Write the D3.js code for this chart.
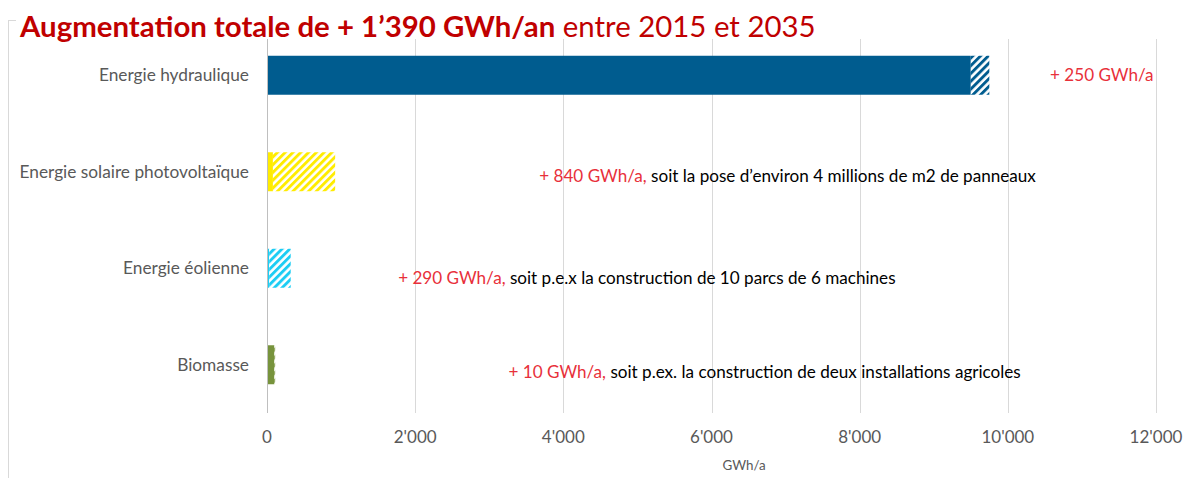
<!DOCTYPE html>
<html>
<head>
<meta charset="utf-8">
<script src="https://cdn.jsdelivr.net/npm/d3@7"></script>
<style>
  body { margin: 0; background: #fff; }
  text { font-family: Lato, "Open Sans", sans-serif; }
</style>
</head>
<body>
<div id="chart"></div>
<script>
var categories = ["Energie hydraulique", "Energie solaire photovoltaïque", "Energie éolienne", "Biomasse"];
var existing = [9500, 80, 30, 100];
var increase = [250, 840, 290, 10];
var colors = ["#005c8f", "#ffec00", "#1ccdf4", "#77933c"];
var xTicks = [0, 2000, 4000, 6000, 8000, 10000, 12000];

// annotation texts: red part, black part, x start (in GWh/a), y shift
var annRed = ["+ 250 GWh/a", "+ 840 GWh/a,", "+ 290 GWh/a,", "+ 10 GWh/a,"];
var annBlack = ["", " soit la pose d\u2019environ 4 millions de m2 de panneaux", " soit p.e.x la construction de 10 parcs de 6 machines", " soit p.ex. la construction de deux installations agricoles"];
var annX = [10570, 3675, 1770, 3260];
var annDy = [0, 4, 10, 7];

var width = 1184, height = 478;

var svg = d3.select("#chart").append("svg")
    .attr("width", width)
    .attr("height", height);

var locale = d3.formatLocale({decimal: ".", thousands: "'", grouping: [3], currency: ["", ""]});
var fmt = locale.format(",");

var x = d3.scaleLinear().domain([0, 12000]).range([267, 1156]);
var y = d3.scaleBand().domain(categories).range([27, 413]).paddingInner(0.596).paddingOuter(0.298);

// hatch patterns
var defs = svg.append("defs");
colors.forEach(function(c, i) {
  var p = defs.append("pattern")
      .attr("id", "hatch" + i)
      .attr("patternUnits", "userSpaceOnUse")
      .attr("width", 5.5)
      .attr("height", 5.5)
      .attr("patternTransform", "rotate(45)");
  p.append("rect").attr("width", 5.5).attr("height", 5.5).attr("fill", "#fff");
  p.append("rect").attr("width", 2.9).attr("height", 5.5).attr("fill", c);
});

// frame
svg.append("rect")
    .attr("x", 8.5).attr("y", 20.5)
    .attr("width", 1300).attr("height", 600)
    .attr("fill", "none")
    .attr("stroke", "#d9d9d9");

// grid
svg.append("g").selectAll("line")
    .data(xTicks.slice(1))
    .enter().append("line")
    .attr("x1", function(d) { return Math.round(x(d)) + 0.5; })
    .attr("x2", function(d) { return Math.round(x(d)) + 0.5; })
    .attr("y1", 39)
    .attr("y2", 413)
    .attr("stroke", "#d9d9d9");

// bars
var bars = svg.append("g").selectAll("g")
    .data(categories)
    .enter().append("g");

bars.append("rect")
    .attr("x", x(0))
    .attr("y", function(d) { return y(d); })
    .attr("width", function(d, i) { return x(existing[i]) - x(0); })
    .attr("height", y.bandwidth())
    .attr("fill", function(d, i) { return colors[i]; });

bars.append("rect")
    .attr("x", function(d, i) { return x(existing[i]); })
    .attr("y", function(d) { return y(d); })
    .attr("width", function(d, i) { return x(existing[i] + increase[i]) - x(existing[i]); })
    .attr("height", y.bandwidth())
    .attr("fill", function(d, i) { return "url(#hatch" + i + ")"; });

// y axis line
svg.append("line")
    .attr("x1", 267.5).attr("x2", 267.5)
    .attr("y1", 39).attr("y2", 413)
    .attr("stroke", "#bfbfbf");

// category labels
svg.append("g").selectAll("text")
    .data(categories)
    .enter().append("text")
    .attr("x", 249)
    .attr("y", function(d) { return y(d) + y.bandwidth() / 2; })
    .attr("dy", "0.35em")
    .attr("text-anchor", "end")
    .attr("font-size", 17.3)
    .attr("fill", "#595959")
    .text(function(d) { return d; });

// x tick labels
svg.append("g").selectAll("text")
    .data(xTicks)
    .enter().append("text")
    .attr("x", function(d) { return x(d); })
    .attr("y", 443)
    .attr("text-anchor", "middle")
    .attr("font-size", 17)
    .attr("fill", "#595959")
    .text(function(d) { return fmt(d); });

svg.append("text")
    .attr("x", 744)
    .attr("y", 470)
    .attr("text-anchor", "middle")
    .attr("font-size", 13.4)
    .attr("fill", "#595959")
    .text("GWh/a");

// annotations
var ann = svg.append("g").selectAll("text")
    .data(categories)
    .enter().append("text")
    .attr("x", function(d, i) { return x(annX[i]); })
    .attr("y", function(d, i) { return y(d) + y.bandwidth() / 2 + annDy[i]; })
    .attr("dy", "0.35em")
    .attr("font-size", 17.1);
ann.append("tspan")
    .attr("fill", "#e8303a")
    .text(function(d, i) { return annRed[i]; });
ann.append("tspan")
    .attr("fill", "#000")
    .text(function(d, i) { return annBlack[i]; });

// title
svg.append("rect")
    .attr("x", 16).attr("y", 6)
    .attr("width", 1200).attr("height", 33)
    .attr("fill", "#fff");
var title = svg.append("text")
    .attr("x", 20)
    .attr("y", 37)
    .attr("font-size", 29.4)
    .attr("fill", "#c00000");
title.append("tspan").attr("font-weight", "bold").text("Augmentation totale de + 1\u2019390 GWh/an");
title.append("tspan").text(" entre 2015 et 2035");
</script>
</body>
</html>
